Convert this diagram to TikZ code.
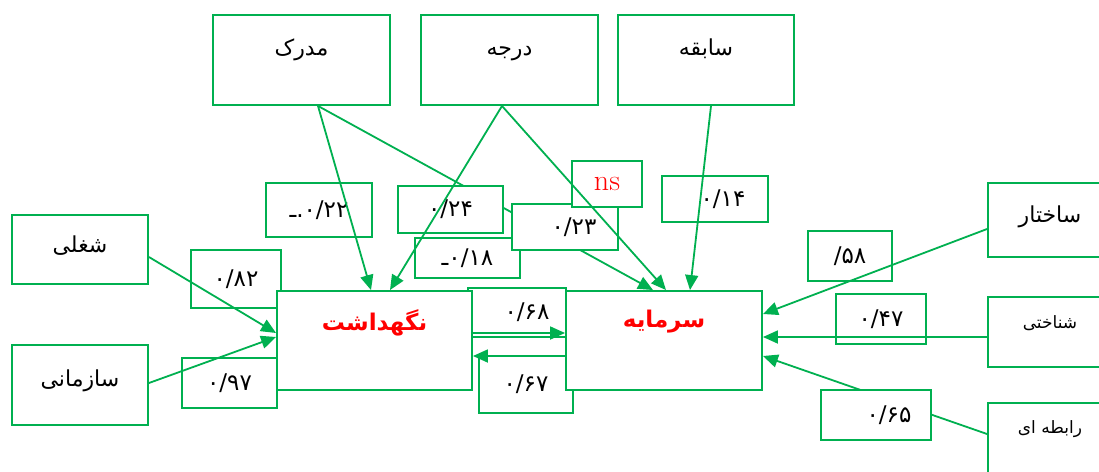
\documentclass[tikz,border=0pt]{standalone}
\usepackage{fontspec}
\newfontfamily\arabicfont[Script=Arabic]{DejaVu Sans}
\TeXXeTstate=1
\usetikzlibrary{arrows.meta}
\definecolor{amosgreen}{RGB}{0,176,80}
\newcommand{\fa}[1]{\beginR #1\endR}
\newcommand{\coef}[6]{
    \node[coefbox,minimum width=#4pt,minimum height=#5pt] (#1) at (#2,#3) {#6};
}
\pgfdeclarelayer{back}
\pgfsetlayers{back,main}

\begin{document}
\begin{tikzpicture}[x=1pt,y=-1pt,
    varbox/.style={draw=amosgreen,line width=1.9pt,fill=white,font=\arabicfont\fontsize{22}{24}\selectfont,text height=12pt},
    mainbox/.style={varbox,text=red,font=\arabicfont\bfseries\fontsize{23}{26}\selectfont},
    coefbox/.style={draw=amosgreen,line width=1.9pt,fill=white,font=\arabicfont\fontsize{23}{24}\selectfont},
    link/.style={draw=amosgreen,line width=1.8pt,-{Triangle[length=15pt,width=13pt]}}]
\clip (0,0) rectangle (1099,471);

% coefficients
\coef{c18}{467.5}{258}{105}{40}{ـ\kern0pt۰/۱۸}
\coef{c24}{450.5}{209.5}{105}{47}{۰/۲۴}
\coef{c23}{565}{227}{106}{46}{\hspace{18pt}۰/۲۳}
\node[coefbox,minimum width=70pt,minimum height=46pt,text=red,font=\fontsize{30}{30}\selectfont] (ns) at (607,184) {ns};
\coef{c22}{319}{210}{106}{54}{ـ\kern0pt.\kern0pt۰/۲۲}
\coef{c14}{715}{199}{106}{46}{\hspace{16pt}۰/۱۴}
\coef{c82}{236}{279}{90}{58}{۰/۸۲}
\coef{c97}{229.5}{383}{95}{50}{۰/۹۷}
\coef{c67}{526}{384.5}{94}{57}{۰/۶۷}
\coef{c68}{517}{312.5}{98}{49}{\hspace{20pt}۰/۶۸}
\coef{c58}{850}{256}{84}{50}{/\kern0pt۵۸}
\coef{c47}{881}{319}{90}{50}{۰/۴۷}
\coef{c65}{876}{415}{110}{50}{\hspace{26pt}۰/۶۵}

% variables
\node[varbox,minimum width=177pt,minimum height=90pt,text depth=22pt] (mdrk) at (301.5,60) {\fa{مدرک}};
\node[varbox,minimum width=177pt,minimum height=90pt,text depth=22pt] (drj) at (509.5,60) {\fa{درجه}};
\node[varbox,minimum width=176pt,minimum height=90pt,text depth=22pt] (sbq) at (706,60) {\fa{سابقه}};
\node[varbox,minimum width=136pt,minimum height=69pt,text depth=7pt] (shgh) at (80,249.5) {\fa{شغلی}};
\node[varbox,minimum width=136pt,minimum height=80pt,text depth=10pt] (szm) at (80,385) {\fa{سازمانی}};
\node[mainbox,minimum width=195pt,minimum height=99pt,text depth=33pt] (ngh) at (374.5,340.5) {\fa{نگهداشت}};
\node[mainbox,minimum width=196pt,minimum height=99pt,text depth=39pt] (srm) at (664,340.5) {\fa{سرمایه}};
\node[varbox,minimum width=124pt,minimum height=74pt,text depth=8pt] (sakh) at (1050,220) {\fa{ساختار}};
\node[varbox,minimum width=124pt,minimum height=70pt,text depth=20pt,font=\arabicfont\fontsize{17}{20}\selectfont] (shn) at (1050,332) {\fa{شناختی}};
\node[varbox,minimum width=124pt,minimum height=94pt,text depth=46pt,font=\arabicfont\fontsize{17}{20}\selectfont] (rbt) at (1050,450) {\fa{رابطه ای}};

% paths
\begin{pgfonlayer}{back}
\fill[white] (0,0) rectangle (1099,471);
\draw[link] ([xshift=16.5pt]mdrk.south) -- ([xshift=-11pt]srm.north);
\draw[link] ([yshift=16pt]rbt.west) -- ([yshift=-15.5pt]srm.east);
\end{pgfonlayer}
\draw[link] ([xshift=16.5pt]mdrk.south) -- ([xshift=-3.5pt]ngh.north);
\draw[link] ([xshift=-7.5pt]drj.south) -- ([xshift=15.5pt]ngh.north);
\draw[link] ([xshift=-7.5pt]drj.south) -- ([xshift=2pt]srm.north);
\draw[link] ([xshift=5pt]sbq.south) -- ([xshift=26pt]srm.north);
\draw[link] ([yshift=-7.5pt]shgh.east) -- ([yshift=7.5pt]ngh.west);
\draw[link] ([yshift=2pt]szm.east) -- ([yshift=3.5pt]ngh.west);
\draw[link] ([yshift=-9pt]sakh.west) -- ([yshift=26.5pt]srm.east);
\draw[link] ([yshift=-5pt]shn.west) -- ([yshift=3.5pt]srm.east);
\draw[link] ([yshift=7.5pt]ngh.east) -- ([yshift=7.5pt]srm.west);
\draw[link] ([yshift=-15.5pt]srm.west) -- ([yshift=-15.5pt]ngh.east);
\end{tikzpicture}
\end{document}
